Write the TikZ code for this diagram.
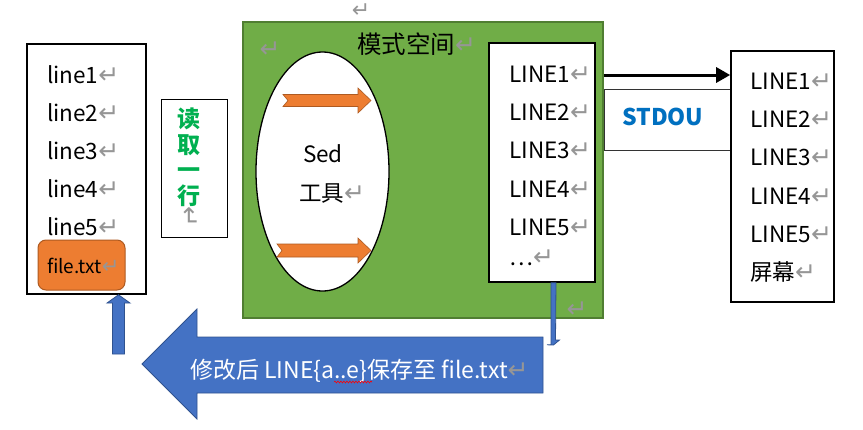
\documentclass[tikz,border=0pt]{standalone}
\usepackage{fontspec}
\setmainfont{Noto Sans CJK SC}
\newfontfamily\retfont{DejaVu Sans}
\usetikzlibrary{arrows.meta,decorations.pathmorphing,shapes.geometric}
\definecolor{retgray}{RGB}{150,150,150}
\definecolor{orangefill}{RGB}{237,125,49}
\definecolor{orangeedge}{RGB}{174,90,33}
\definecolor{greenfill}{RGB}{112,173,71}
\definecolor{greenedge}{RGB}{80,126,50}
\definecolor{bluefill}{RGB}{68,114,196}
\definecolor{blueedge}{RGB}{47,82,143}
\definecolor{stdblue}{RGB}{0,112,192}
\definecolor{readgreen}{RGB}{0,176,80}
\newcommand{\retmark}{{\retfont\fontsize{25}{25}\selectfont\textcolor{retgray}{↵}}}
\begin{document}
\begin{tikzpicture}[x=1pt,y=-1pt,
  box/.style={draw=black,line width=1.6pt,fill=white,inner sep=0pt},
  txt/.style={anchor=base west,inner sep=0pt,font=\fontsize{22.5}{22.5}\selectfont},
  ret/.style={inner sep=0pt,font=\retfont\fontsize{25}{25}\selectfont,text=retgray},
  orangearrow/.style={fill=orangefill,draw=orangeedge,line width=0.6pt},
  bluearrow/.style={fill=bluefill,draw=blueedge,line width=0.8pt}]
\useasboundingbox (0,0) rectangle (863,429);

% green pattern space
\node[draw=greenedge,fill=greenfill,line width=1.5pt,minimum width=360pt,minimum height=296pt,inner sep=0pt] (green) at (423,170) {};
\node[inner sep=0pt,anchor=base west,font=\fontsize{24.5}{24.5}\selectfont] (title) at (357,53) {模式空间\retmark};
\node[ret,font=\retfont\fontsize{22}{22}\selectfont] (rtop) at (361,11) {↵};
\node[ret] (rgl) at (270,50) {↵};
\node[ret] (rgr) at (577,310) {↵};

% ellipse
\node[draw=black,fill=white,line width=1.3pt,ellipse,minimum width=133pt,minimum height=239pt,inner sep=0pt] (sed) at (322.5,171.5) {};
\node[inner sep=0pt,anchor=base,font=\fontsize{22.5}{22.5}\selectfont] (sedt) at (323,162) {Sed};
\node[inner sep=0pt,anchor=base west,font=\fontsize{22.5}{22.5}\selectfont] (toolt) at (299,201) {工具\retmark};
\draw[orangearrow] (283,94.5) -- (358,94.5) -- (358,88) -- (371,100.5) -- (358,113) -- (358,106.5) -- (283,106.5) -- (288,100.5) -- cycle;
\draw[orangearrow] (277,244) -- (358,244) -- (358,238) -- (371,250.5) -- (358,263) -- (358,257) -- (277,257) -- (282,250.5) -- cycle;

% inner box
\node[box,minimum width=106pt,minimum height=239pt] (inner) at (542,162.5) {};
\node[txt] (i1) at (509,82) {LINE1\retmark};
\node[txt] (i2) at (509,120) {LINE2\retmark};
\node[txt] (i3) at (509,158) {LINE3\retmark};
\node[txt] (i4) at (509,197) {LINE4\retmark};
\node[txt] (i5) at (509,235) {LINE5\retmark};
\node[txt] (i6) at (509,265) {…\retmark};

% left file box
\node[box,minimum width=119pt,minimum height=250pt] (left) at (86.5,169) {};
\node[txt] (l1) at (47,83) {line1\retmark};
\node[txt] (l2) at (47,121) {line2\retmark};
\node[txt] (l3) at (47,159) {line3\retmark};
\node[txt] (l4) at (47,197) {line4\retmark};
\node[txt] (l5) at (47,235) {line5\retmark};
\node[draw=orangeedge,fill=orangefill,line width=1pt,rounded corners=8pt,minimum width=87pt,minimum height=50pt,inner sep=0pt] (file) at (81.5,265) {};
\node[txt,font=\fontsize{19}{19}\selectfont] (filet) at (47,273) {file.txt{\retfont\fontsize{21}{21}\selectfont\textcolor{retgray}{↵}}};

% read one line box
\node[draw=black,line width=0.8pt,fill=white,minimum width=66pt,minimum height=138pt,inner sep=0pt] (read) at (194,168) {};
\node[inner sep=0pt,align=center,text=readgreen,font=\bfseries\fontsize{23}{25.5}\selectfont,anchor=north] (readt) at (189,108) {读\\取\\一\\行};
\node[ret,rotate=-90] (readr) at (189,217) {↵};

% STDOU box
\node[draw=black!80,line width=0.8pt,fill=white,minimum width=128pt,minimum height=61pt,inner sep=0pt] (std) at (668,119.5) {};
\node[inner sep=0pt,anchor=base west,text=stdblue,font=\bfseries\fontsize{23}{23}\selectfont] (stdt) at (622,125) {STDOU};

% right screen box
\node[box,minimum width=103pt,minimum height=251pt] (right) at (782.5,176.5) {};
\node[txt] (r1) at (750,89) {LINE1\retmark};
\node[txt] (r2) at (750,127) {LINE2\retmark};
\node[txt] (r3) at (750,165) {LINE3\retmark};
\node[txt] (r4) at (750,204) {LINE4\retmark};
\node[txt] (r5) at (750,242) {LINE5\retmark};
\node[txt] (r6) at (750,280) {屏幕\retmark};

% black output arrow
\coordinate (ay) at (0,75);
\draw[line width=3pt,-{Triangle[length=14pt,width=15pt]}] (green.east |- ay) -- (right.west |- ay);

% thin blue down arrow
\coordinate (dx) at (553.5,0);
\coordinate (dend) at (553.5,345);
\draw[bluearrow] ([xshift=-2.5pt]inner.south -| dx) -- ++(0,62) -- ++(-4,0) -- (dend) -- ++(6,-5) -- ++(-4,0) -- ([xshift=2.5pt]inner.south -| dx) -- cycle;

% small blue up arrow
\coordinate (ustart) at (118.5,354);
\coordinate (uhead) at (118.5,303);
\draw[bluearrow] ([xshift=-6pt]ustart) -- ([xshift=-6pt]uhead) -- ([xshift=-11.5pt]uhead) -- (left.south -| ustart) -- ([xshift=11.5pt]uhead) -- ([xshift=6pt]uhead) -- ([xshift=6pt]ustart) -- cycle;

% big blue left arrow
\draw[bluearrow] (142,364) -- (197,309) -- (197,337) -- (543,337) -- (543,393) -- (197,393) -- (197,419) -- cycle;
\node[inner sep=0pt,anchor=base west,text=white,font=\fontsize{23}{23}\selectfont] (bigt) at (190,378) {修改后 LINE\{a..e\}保存至 file.txt\retmark};
\draw[red,line width=0.6pt,decorate,decoration={snake,amplitude=0.9pt,segment length=3pt}] (334,382) -- (372,382);
\end{tikzpicture}
\end{document}
